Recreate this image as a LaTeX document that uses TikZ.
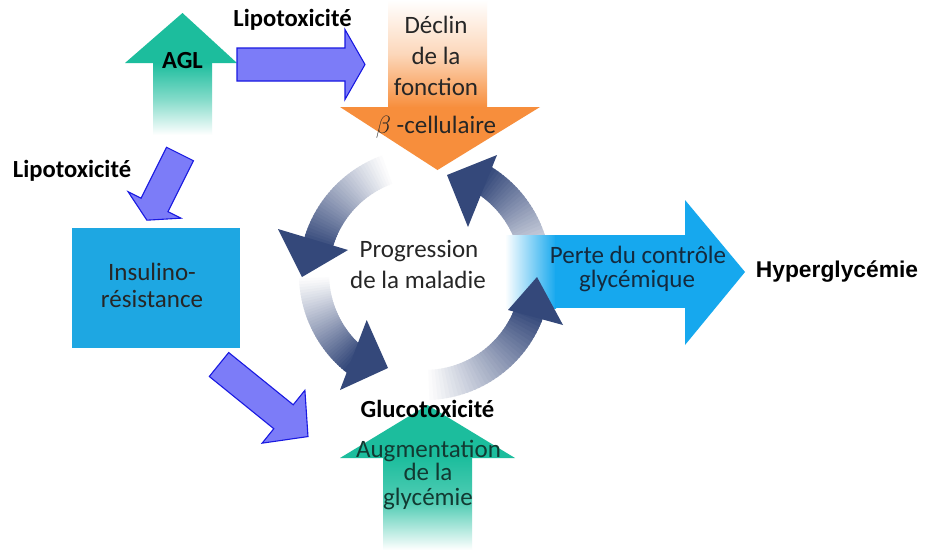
\documentclass[tikz,border=0pt]{standalone}
\usepackage{fontspec}
\setmainfont{Carlito}
\newfontfamily\arialf{Liberation Sans}
\definecolor{tealc}{RGB}{28,189,157}
\definecolor{orangec}{RGB}{247,142,60}
\definecolor{purplef}{RGB}{124,124,248}
\definecolor{purpled}{RGB}{25,25,225}
\definecolor{boxblue}{RGB}{30,167,226}
\definecolor{cyanc}{RGB}{22,168,238}
\definecolor{navyc}{RGB}{52,72,122}
\definecolor{txtd}{RGB}{38,38,38}
\definecolor{txtb}{RGB}{20,42,62}
\definecolor{txtt}{RGB}{18,58,50}
\tikzset{
 lbl/.style={font=\fontsize{25}{30}\selectfont, anchor=base, inner sep=0pt, text=txtd},
 blbl/.style={font=\bfseries\fontsize{24.6}{30}\selectfont, anchor=base, inner sep=0pt, text=black},
 parrow/.style={fill=purplef, draw=purpled, line width=1.1pt, line join=miter},
 headc/.style={fill=navyc},
}
% #1,#2 start; #3 screen angle (clockwise); #4 length; #5 head start; #6 shaft half width; #7 head half width; #8 style
\newcommand\blockarrow[8]{%
  \draw[#8,shift={(#1,#2)},rotate=-#3] (0,-#6)--(#5,-#6)--(#5,-#7)--(#4,0)--(#5,#7)--(#5,#6)--(0,#6)--cycle;}
\begin{document}
\begin{tikzpicture}[x=1pt,y=-1pt]
\useasboundingbox (0,0) rectangle (926,550);
\fill[white] (0,0) rectangle (926,550);

% AGL arrow
\fill[tealc] (125,63) -- (182.5,13) -- (237,63) -- cycle;
\shade[top color=tealc, bottom color=white, middle color=tealc!55] (153,62.5) rectangle (212,135);

% orange arrow
\shade[top color=white, bottom color=orangec, middle color=orangec!35] (388,0) rectangle (487,107.5);
\fill[orangec] (340,107) -- (540,107) -- (437.5,170) -- cycle;

% purple arrows
\blockarrow{237}{64.5}{0}{128}{108}{16.5}{35}{parrow}
\blockarrow{180}{154}{116.57}{74}{57}{15}{29.5}{parrow}
\blockarrow{219}{364.5}{39}{114.5}{83}{15.4}{34}{parrow}

% box
\fill[boxblue] (72,228) rectangle (240,348);

% ring bands
\begin{scope}[shift={(425,274)}]
\foreach \ta/\tb in {250/194,360/301,178/129,88/19}{
 \foreach \i in {0,...,35}{
   \pgfmathsetmacro\aa{\ta+(\tb-\ta)*\i/36}
   \pgfmathsetmacro\ab{\ta+(\tb-\ta)*(\i+1.6)/36}
   \pgfmathsetmacro\pp{100*((\i+1)/36)^1.1}
   \fill[navyc!\pp!white] (\aa:96) -- (\aa:126) -- (\ab:126) -- (\ab:96) -- cycle;
 }
}
\end{scope}

% cyan arrow
\shade[left color=white, right color=cyanc] (505,235) rectangle (556,308);
\fill[cyanc] (555,235) rectangle (686,308);
\fill[cyanc] (685,200) -- (745,272) -- (685,345) -- cycle;

% teal bottom arrow
\fill[tealc] (340,458) -- (427.5,405) -- (515,458) -- cycle;
\shade[top color=tealc, bottom color=white, middle color=tealc!75] (383,457.5) rectangle (472,550);

% ring heads
\fill[headc] (278,229) -- (348,250) -- (302,277) -- cycle;
\fill[headc] (497,155) -- (468,227) -- (447,175) -- cycle;
\fill[headc] (366.7,320) -- (340,390) -- (388,368) -- cycle;
\fill[headc] (508,310) -- (563,325) -- (537,277) -- cycle;

% texts
\node[blbl] (lipo1) at (292.5,26) {Lipotoxicité};
\node[blbl] (agl) at (182.5,68) {AGL};
\node[lbl] (dec1) at (436,33) {Déclin};
\node[lbl] (dec2) at (436,64) {de la};
\node[lbl] (dec3) at (436,95) {fonction};
\node[lbl] (dec4) at (436,133) {$\beta$ -cellulaire};
\node[blbl] (lipo2) at (72,177) {Lipotoxicité};
\node[lbl] (ins1) at (152,280) {Insulino-};
\node[lbl] (ins2) at (152,307) {résistance};
\node[lbl] (prog1) at (419,257) {Progression};
\node[lbl] (prog2) at (418,288) {de la maladie};
\node[lbl,text=txtb] (perte1) at (638,263) {Perte du contrôle};
\node[lbl,text=txtb] (perte2) at (637,287) {glycémique};
\node[blbl,font=\arialf\bfseries\fontsize{22.8}{28}\selectfont] (hyper) at (837,277) {Hyperglycémie};
\node[blbl] (gluco) at (427.5,417) {Glucotoxicité};
\node[lbl,text=txtt] (aug1) at (428.5,457) {Augmentation};
\node[lbl,text=txtt] (aug2) at (428,480) {de la};
\node[lbl,text=txtt] (aug3) at (428,505) {glycémie};
\end{tikzpicture}
\end{document}
